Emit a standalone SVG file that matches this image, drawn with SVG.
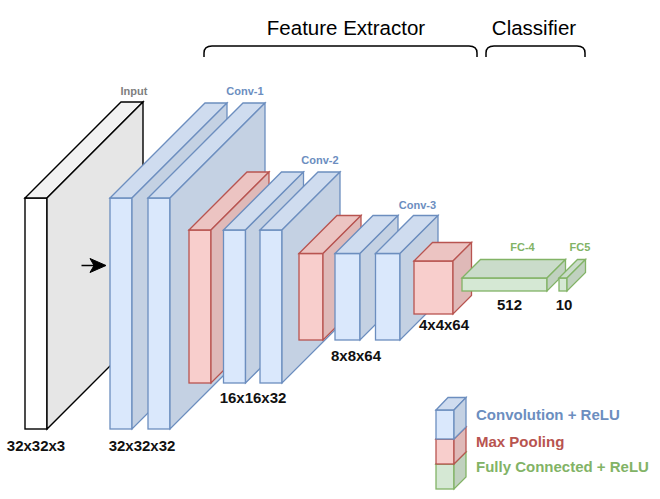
<svg xmlns="http://www.w3.org/2000/svg" width="660" height="499" viewBox="0 0 660 499">
<style>
text{font-family:"Liberation Sans",Arial,Helvetica,sans-serif;}
.t{font-size:20.5px;fill:#000;text-anchor:middle;}
.lb{font-size:11px;font-weight:bold;text-anchor:middle;}
.dim{font-size:15px;font-weight:bold;fill:#111;text-anchor:middle;}
.lg{font-size:15px;font-weight:bold;}
.k{stroke:#000;stroke-width:1.4;stroke-linejoin:miter;}
.b{stroke:#6c8ebf;stroke-width:1.3;}
.r{stroke:#b85450;stroke-width:1.3;}
.g{stroke:#82b366;stroke-width:1.3;}
.kf{fill:#ffffff}.kt{fill:#f2f2f2}.ks{fill:#e6e6e6}
.bf{fill:#dae8fc}.bt{fill:#cfdcef}.bs{fill:#c4d1e3}
.rf{fill:#f8cecc}.rt{fill:#ecc4c2}.rs{fill:#dfb9b8}
.gf{fill:#d5e8d4}.gt{fill:#cadcca}.gs{fill:#c0d1bf}
.brace{fill:none;stroke:#000;stroke-width:1.5;}
</style>

<g id="title-feature">
<text class="t" x="346" y="35">Feature Extractor</text>
<path class="brace" d="M204,57 V53 Q204,46 212,46 H469 Q477,46 477,53 V57"/>
</g>
<g id="title-classifier">
<text class="t" x="534" y="35">Classifier</text>
<path class="brace" d="M486,57 V53 Q486,46 494,46 H577 Q585,46 585,53 V57"/>
</g>

<g id="input">
<rect class="k kf" x="25" y="198" width="22" height="231"/>
<polygon class="k kt" points="25,198 121,102 143,102 47,198"/>
<polygon class="k ks" points="47,198 143,102 143,333 47,429"/>
<text class="lb" x="134" y="95" fill="#808080">Input</text>
<text class="dim" x="36" y="451">32x32x3</text>
</g>

<g id="conv1">
<rect class="b bf" x="110" y="198" width="22" height="231"/>
<polygon class="b bt" points="110,198 205,103 227,103 132,198"/>
<polygon class="b bs" points="132,198 227,103 227,334 132,429"/>
<rect class="b bf" x="148" y="198" width="22" height="231"/>
<polygon class="b bt" points="148,198 243,103 265,103 170,198"/>
<polygon class="b bs" points="170,198 265,103 265,334 170,429"/>
<text class="lb" x="245" y="95" fill="#6c8ebf">Conv-1</text>
<text class="dim" x="142" y="451">32x32x32</text>
</g>

<g id="pool1">
<rect class="r rf" x="189" y="230" width="22" height="153"/>
<polygon class="r rt" points="189,230 247,172 269,172 211,230"/>
<polygon class="r rs" points="211,230 269,172 269,325 211,383"/>
</g>

<g id="conv2">
<rect class="b bf" x="223.5" y="230" width="22" height="153"/>
<polygon class="b bt" points="223.5,230 281.5,172 303.5,172 245.5,230"/>
<polygon class="b bs" points="245.5,230 303.5,172 303.5,325 245.5,383"/>
<rect class="b bf" x="260" y="230" width="22" height="153"/>
<polygon class="b bt" points="260,230 318,172 340,172 282,230"/>
<polygon class="b bs" points="282,230 340,172 340,325 282,383"/>
<text class="lb" x="320" y="164" fill="#6c8ebf">Conv-2</text>
<text class="dim" x="253" y="403">16x16x32</text>
</g>

<g id="pool2">
<rect class="r rf" x="299" y="253.5" width="24" height="86.5"/>
<polygon class="r rt" points="299,253.5 337,215.5 361,215.5 323,253.5"/>
<polygon class="r rs" points="323,253.5 361,215.5 361,302 323,340"/>
</g>

<g id="conv3">
<rect class="b bf" x="335" y="253.5" width="25" height="86.5"/>
<polygon class="b bt" points="335,253.5 373,215.5 398,215.5 360,253.5"/>
<polygon class="b bs" points="360,253.5 398,215.5 398,302 360,340"/>
<rect class="b bf" x="375.5" y="253.5" width="24.5" height="86.5"/>
<polygon class="b bt" points="375.5,253.5 413.5,215.5 438,215.5 400,253.5"/>
<polygon class="b bs" points="400,253.5 438,215.5 438,302 400,340"/>
<text class="lb" x="417.5" y="208.5" fill="#6c8ebf">Conv-3</text>
<text class="dim" x="356" y="361">8x8x64</text>
</g>

<g id="pool3">
<rect class="r rf" x="414" y="261" width="39" height="53"/>
<polygon class="r rt" points="414,261 432.5,242.5 471.5,242.5 453,261"/>
<polygon class="r rs" points="453,261 471.5,242.5 471.5,295.5 453,314"/>
<text class="dim" x="444" y="330">4x4x64</text>
</g>

<g id="fc4">
<rect class="g gf" x="462" y="278" width="85" height="13"/>
<polygon class="g gt" points="462,278 480.5,259.5 565.5,259.5 547,278"/>
<polygon class="g gs" points="547,278 565.5,259.5 565.5,272.5 547,291"/>
<text class="lb" x="522.5" y="251" fill="#82b366">FC-4</text>
<text class="dim" x="509.5" y="309.5">512</text>
</g>

<g id="fc5">
<rect class="g gf" x="559" y="278" width="8" height="13"/>
<polygon class="g gt" points="559,278 577.5,259.5 585.5,259.5 567,278"/>
<polygon class="g gs" points="567,278 585.5,259.5 585.5,272.5 567,291"/>
<text class="lb" x="580" y="251" fill="#82b366">FC5</text>
<text class="dim" x="564" y="309.5">10</text>
</g>

<g id="connectors">
<line x1="81.5" y1="265.5" x2="96" y2="265.5" stroke="#000" stroke-width="1.5"/>
<polygon points="106,265.5 90,258.5 94,265.5 90,272.5" fill="#000" stroke="#000" stroke-width="1"/>
</g>

<g id="legend">
<rect class="g gf" x="436" y="464" width="18" height="25"/>
<polygon class="g gt" points="436,464 448,452 466,452 454,464"/>
<polygon class="g gs" points="454,464 466,452 466,477 454,489"/>
<rect class="r rf" x="436" y="439" width="18" height="25"/>
<polygon class="r rt" points="436,439 448,427 466,427 454,439"/>
<polygon class="r rs" points="454,439 466,427 466,452 454,464"/>
<rect class="b bf" x="436" y="410" width="18" height="29"/>
<polygon class="b bt" points="436,410 448,397.5 466,397.5 454,410"/>
<polygon class="b bs" points="454,410 466,397.5 466,427 454,439"/>
<text class="lg" x="476" y="419.5" fill="#6c8ebf">Convolution + ReLU</text>
<text class="lg" x="476" y="446.5" fill="#b85450">Max Pooling</text>
<text class="lg" x="476" y="471.5" fill="#82b366">Fully Connected + ReLU</text>
</g>
</svg>
